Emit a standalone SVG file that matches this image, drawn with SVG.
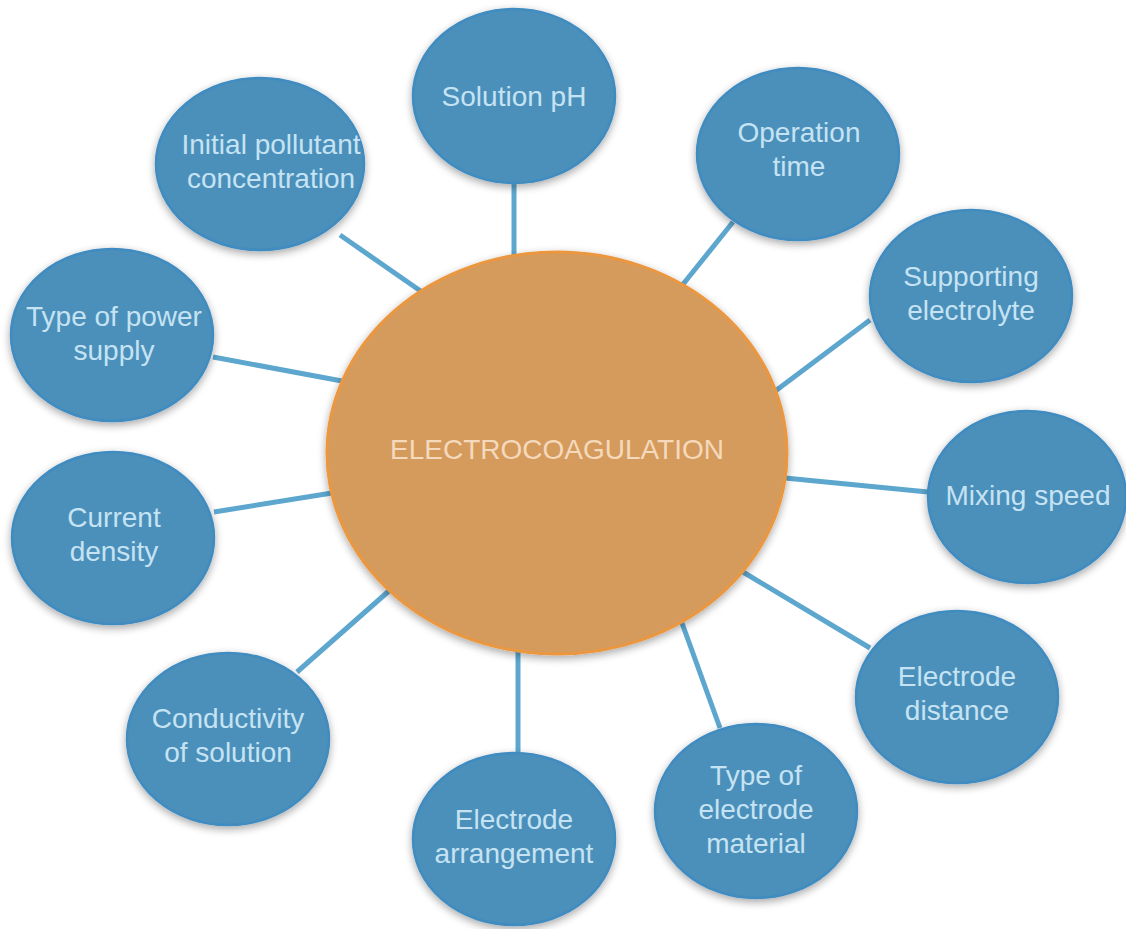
<svg xmlns="http://www.w3.org/2000/svg" width="1126" height="929" viewBox="0 0 1126 929">
<defs>
<style>
.n ellipse{fill:#4b90ba;stroke:#3f8bc0;stroke-width:2.5;filter:url(#sh)}
.n text{font-family:"Liberation Sans",Arial,sans-serif;font-size:28px;fill:#c6e3f3;text-anchor:middle}
.c ellipse{fill:#d59b5c;stroke:#eb9740;stroke-width:3;filter:url(#sh)}
.c text{font-family:"Liberation Sans",Arial,sans-serif;font-size:28px;fill:#f4d9bc;text-anchor:middle}
#edges line{stroke:#5da7cf;stroke-width:5}
</style>
<filter id="sh" x="-20%" y="-20%" width="140%" height="140%">
<feGaussianBlur in="SourceAlpha" stdDeviation="4"/>
<feOffset dx="0" dy="3" result="b"/>
<feComponentTransfer><feFuncA type="linear" slope="0.35"/></feComponentTransfer>
<feMerge><feMergeNode/><feMergeNode in="SourceGraphic"/></feMerge>
</filter>
</defs>
<rect width="1126" height="929" fill="#ffffff"/>
<g id="edges">
<line x1="514" y1="183" x2="514" y2="255"/>
<line x1="340" y1="235" x2="422" y2="292"/>
<line x1="733" y1="222" x2="680" y2="288"/>
<line x1="870" y1="320" x2="774" y2="392"/>
<line x1="213" y1="357" x2="342" y2="381"/>
<line x1="928" y1="492" x2="785" y2="478"/>
<line x1="214" y1="512" x2="332" y2="493"/>
<line x1="870" y1="648" x2="743" y2="572"/>
<line x1="297" y1="672" x2="390" y2="590"/>
<line x1="518" y1="753" x2="518" y2="651"/>
<line x1="720" y1="728" x2="682" y2="623"/>
</g>
<g id="center" class="c">
<ellipse cx="557" cy="453" rx="230" ry="201"/>
<text x="557" y="459">ELECTROCOAGULATION</text>
</g>
<g id="solution-ph" class="n">
<ellipse cx="514" cy="96" rx="101" ry="87"/>
<text x="514" y="106">Solution pH</text>
</g>
<g id="initial-pollutant" class="n">
<ellipse cx="260" cy="164" rx="104" ry="86"/>
<text x="271" y="154">Initial pollutant</text>
<text x="271" y="188">concentration</text>
</g>
<g id="operation-time" class="n">
<ellipse cx="798" cy="154" rx="101" ry="86"/>
<text x="799" y="142">Operation</text>
<text x="799" y="176">time</text>
</g>
<g id="power-supply" class="n">
<ellipse cx="112" cy="335" rx="101" ry="86"/>
<text x="114" y="326">Type of power</text>
<text x="114" y="360">supply</text>
</g>
<g id="supporting-electrolyte" class="n">
<ellipse cx="971" cy="296" rx="101" ry="86"/>
<text x="971" y="286">Supporting</text>
<text x="971" y="320">electrolyte</text>
</g>
<g id="current-density" class="n">
<ellipse cx="113" cy="538" rx="101" ry="86"/>
<text x="114" y="527">Current</text>
<text x="114" y="561">density</text>
</g>
<g id="mixing-speed" class="n">
<ellipse cx="1027" cy="497" rx="99" ry="86"/>
<text x="1028" y="505">Mixing speed</text>
</g>
<g id="conductivity" class="n">
<ellipse cx="228" cy="739" rx="101" ry="86"/>
<text x="228" y="728">Conductivity</text>
<text x="228" y="762">of solution</text>
</g>
<g id="electrode-distance" class="n">
<ellipse cx="957" cy="697" rx="101" ry="86"/>
<text x="957" y="686">Electrode</text>
<text x="957" y="720">distance</text>
</g>
<g id="electrode-arrangement" class="n">
<ellipse cx="514" cy="839" rx="101" ry="86"/>
<text x="514" y="829">Electrode</text>
<text x="514" y="863">arrangement</text>
</g>
<g id="electrode-material" class="n">
<ellipse cx="756" cy="811" rx="101" ry="87"/>
<text x="756" y="785">Type of</text>
<text x="756" y="819">electrode</text>
<text x="756" y="853">material</text>
</g>
</svg>
